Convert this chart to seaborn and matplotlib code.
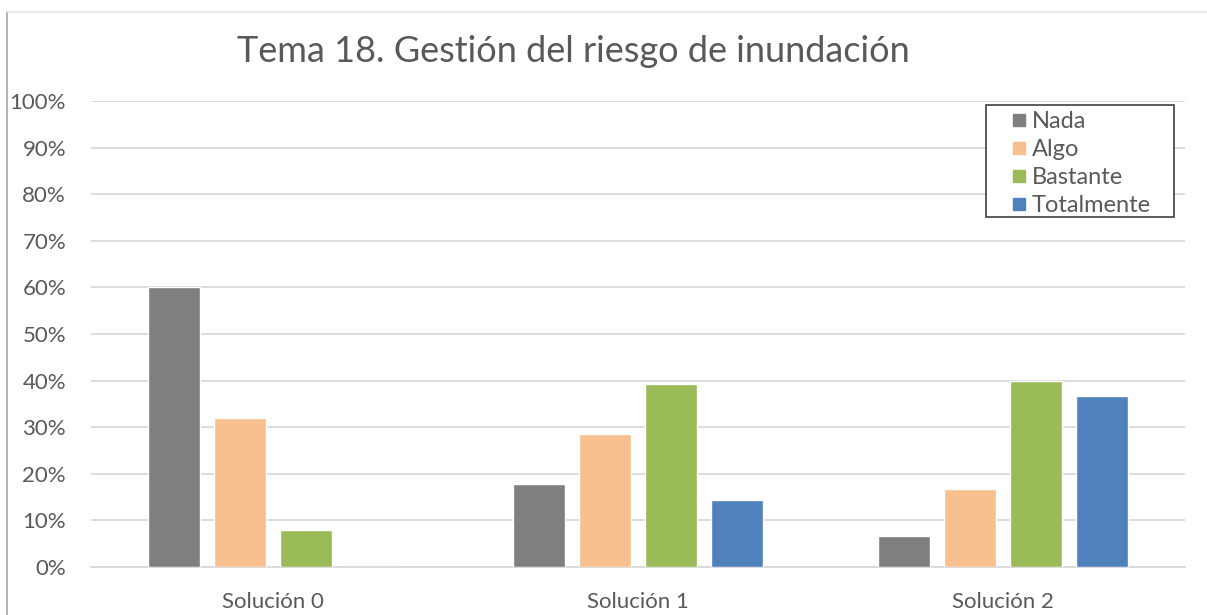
import matplotlib
matplotlib.use("Agg")
import matplotlib.pyplot as plt
import numpy as np
import pandas as pd
import seaborn as sns
from matplotlib.lines import Line2D
from matplotlib.patches import Rectangle
from matplotlib.ticker import PercentFormatter

categories = ["Solución 0", "Solución 1", "Solución 2"]
levels = ["Nada", "Algo", "Bastante", "Totalmente"]
nada = [0.60, 0.179, 0.067]
algo = [0.32, 0.286, 0.167]
bastante = [0.08, 0.393, 0.40]
totalmente = [0.0, 0.143, 0.367]
colors = ["#7f7f7f", "#f9c08f", "#9bbb59", "#4f81bd"]

rows = []
for level, values in zip(levels, [nada, algo, bastante, totalmente]):
    for cat, v in zip(categories, values):
        rows.append({"cat": cat, "level": level, "value": v})
df = pd.DataFrame(rows)

sns.set_style("white")
plt.rcParams["font.family"] = ["Lato", "DejaVu Sans"]
text_color = "#595959"

W, H = 1207, 615
fig = plt.figure(figsize=(W / 100, H / 100), dpi=100)
ax = fig.add_axes([91 / W, 1 - 567 / H, (1185 - 91) / W, (567 - 101) / H])

sns.barplot(data=df, x="cat", y="value", hue="level", order=categories,
            hue_order=levels, palette=colors, width=0.724, gap=0.21,
            saturation=1, ax=ax, legend=False, zorder=3)

ax.set_ylim(0, 1)
ax.set_yticks(np.linspace(0, 1, 11))
ax.yaxis.set_major_formatter(PercentFormatter(1.0, decimals=0))
ax.grid(axis="y", color="#d9d9d9", linewidth=1.3, zorder=0)
ax.set_axisbelow(True)
for s in ["top", "right", "left"]:
    ax.spines[s].set_visible(False)
ax.spines["bottom"].set_color("#d9d9d9")
ax.spines["bottom"].set_linewidth(1.3)
ax.tick_params(axis="both", length=0, labelsize=16, colors=text_color)
ax.tick_params(axis="y", pad=18)
ax.tick_params(axis="x", pad=18)
ax.set_xlabel("")
ax.set_ylabel("")

fig.text(573 / W, 1 - 52 / H, "Tema 18. Gestión del riesgo de inundación",
         ha="center", va="center", fontsize=26, color=text_color)

# legend box drawn separately so its padding matches the reference
fig.add_artist(Rectangle((986 / W, 1 - 217 / H), 188 / W, 112 / H,
                         transform=fig.transFigure, facecolor="white",
                         edgecolor="#404040", linewidth=1.2, zorder=1))
handles = [Line2D([], [], marker="s", linestyle="", markersize=8.6,
                  markerfacecolor=c, markeredgecolor=c) for c in colors]
leg = fig.legend(handles, levels, loc="upper left", frameon=False,
                 fontsize=17, labelcolor=text_color, handlelength=0.8,
                 handletextpad=0.15, borderpad=0.25, labelspacing=0.3,
                 borderaxespad=0, numpoints=1,
                 bbox_to_anchor=(1003.7 / W, 1 - 105 / H))

fig.add_artist(Line2D([7 / W, 7 / W], [0, 1 - 12 / H],
                      transform=fig.transFigure, color="#a6a6a6", linewidth=1.2))
fig.add_artist(Line2D([7 / W, 1], [1 - 12 / H, 1 - 12 / H],
                      transform=fig.transFigure, color="#e6e6e6", linewidth=1.2))

fig.savefig("out.png", dpi=100)
